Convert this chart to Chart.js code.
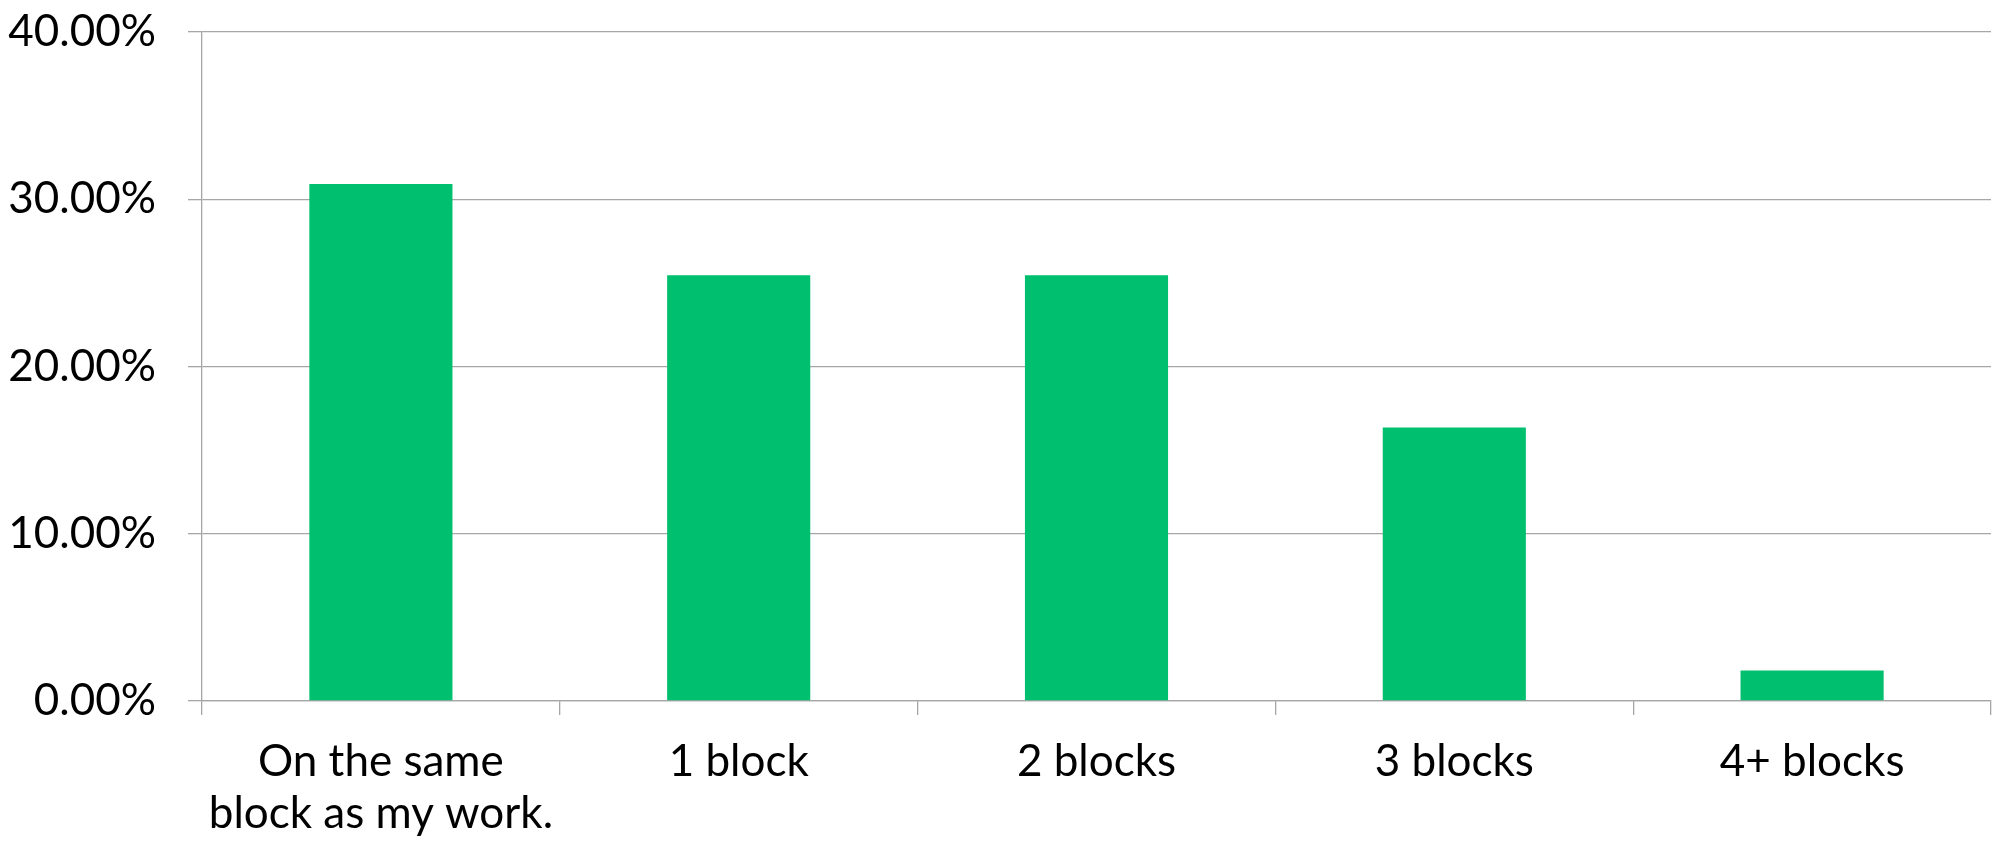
<!DOCTYPE html>
<html>
<head>
<meta charset="utf-8">
<script src="https://cdn.jsdelivr.net/npm/chart.js@4"></script>
<style>
  html, body { margin: 0; padding: 0; background: #fff; }
  #wrap { width: 1995px; height: 844px; }
</style>
</head>
<body>
<div id="wrap"><canvas id="distanceChart" width="1995" height="844"></canvas></div>
<script>
const categories = [["On the same", "block as my work."], "1 block", "2 blocks", "3 blocks", "4+ blocks"];
const shares = [30.91, 25.45, 25.45, 16.36, 1.82];
const yTicks = [0, 10, 20, 30, 40];

const green = '#00bf6f';
const gridGray = '#a6a6a6';
const labelFont = { family: 'Lato, "Noto Sans", sans-serif', size: 44, lineHeight: 1.2 };

const ctx = document.getElementById('distanceChart').getContext('2d');

new Chart(ctx, {
  type: 'bar',
  data: {
    labels: categories,
    datasets: [{
      data: shares,
      backgroundColor: green,
      borderWidth: 0,
      categoryPercentage: 1,
      barPercentage: 0.4
    }]
  },
  options: {
    responsive: false,
    animation: false,
    layout: { padding: { top: 32, right: 4, left: 0, bottom: 0 } },
    plugins: {
      legend: { display: false },
      tooltip: { enabled: false }
    },
    scales: {
      x: {
        grid: {
          display: true,
          drawOnChartArea: false,
          drawTicks: true,
          tickLength: 14,
          color: gridGray,
          lineWidth: 1.3
        },
        border: { display: true, color: gridGray, width: 1.3 },
        ticks: {
          color: '#000',
          font: labelFont,
          padding: 20,
          maxRotation: 0,
          autoSkip: false
        },
        afterFit: (scale) => {
          scale.height = 143;
          scale.paddingLeft = 0;
          scale.paddingRight = 0;
        }
      },
      y: {
        min: 0,
        max: 40,
        afterBuildTicks: (scale) => { scale.ticks = yTicks.map(v => ({ value: v })); },
        grid: {
          color: gridGray,
          lineWidth: 1.3,
          tickLength: 14
        },
        border: { display: true, color: gridGray, width: 1.3 },
        ticks: {
          color: '#000',
          font: labelFont,
          padding: 32,
          callback: (v) => v.toFixed(2) + '%'
        },
        afterFit: (scale) => {
          scale.width = 202;
          scale.paddingTop = 0;
          scale.paddingBottom = 0;
        }
      }
    }
  }
});
</script>
</body>
</html>
